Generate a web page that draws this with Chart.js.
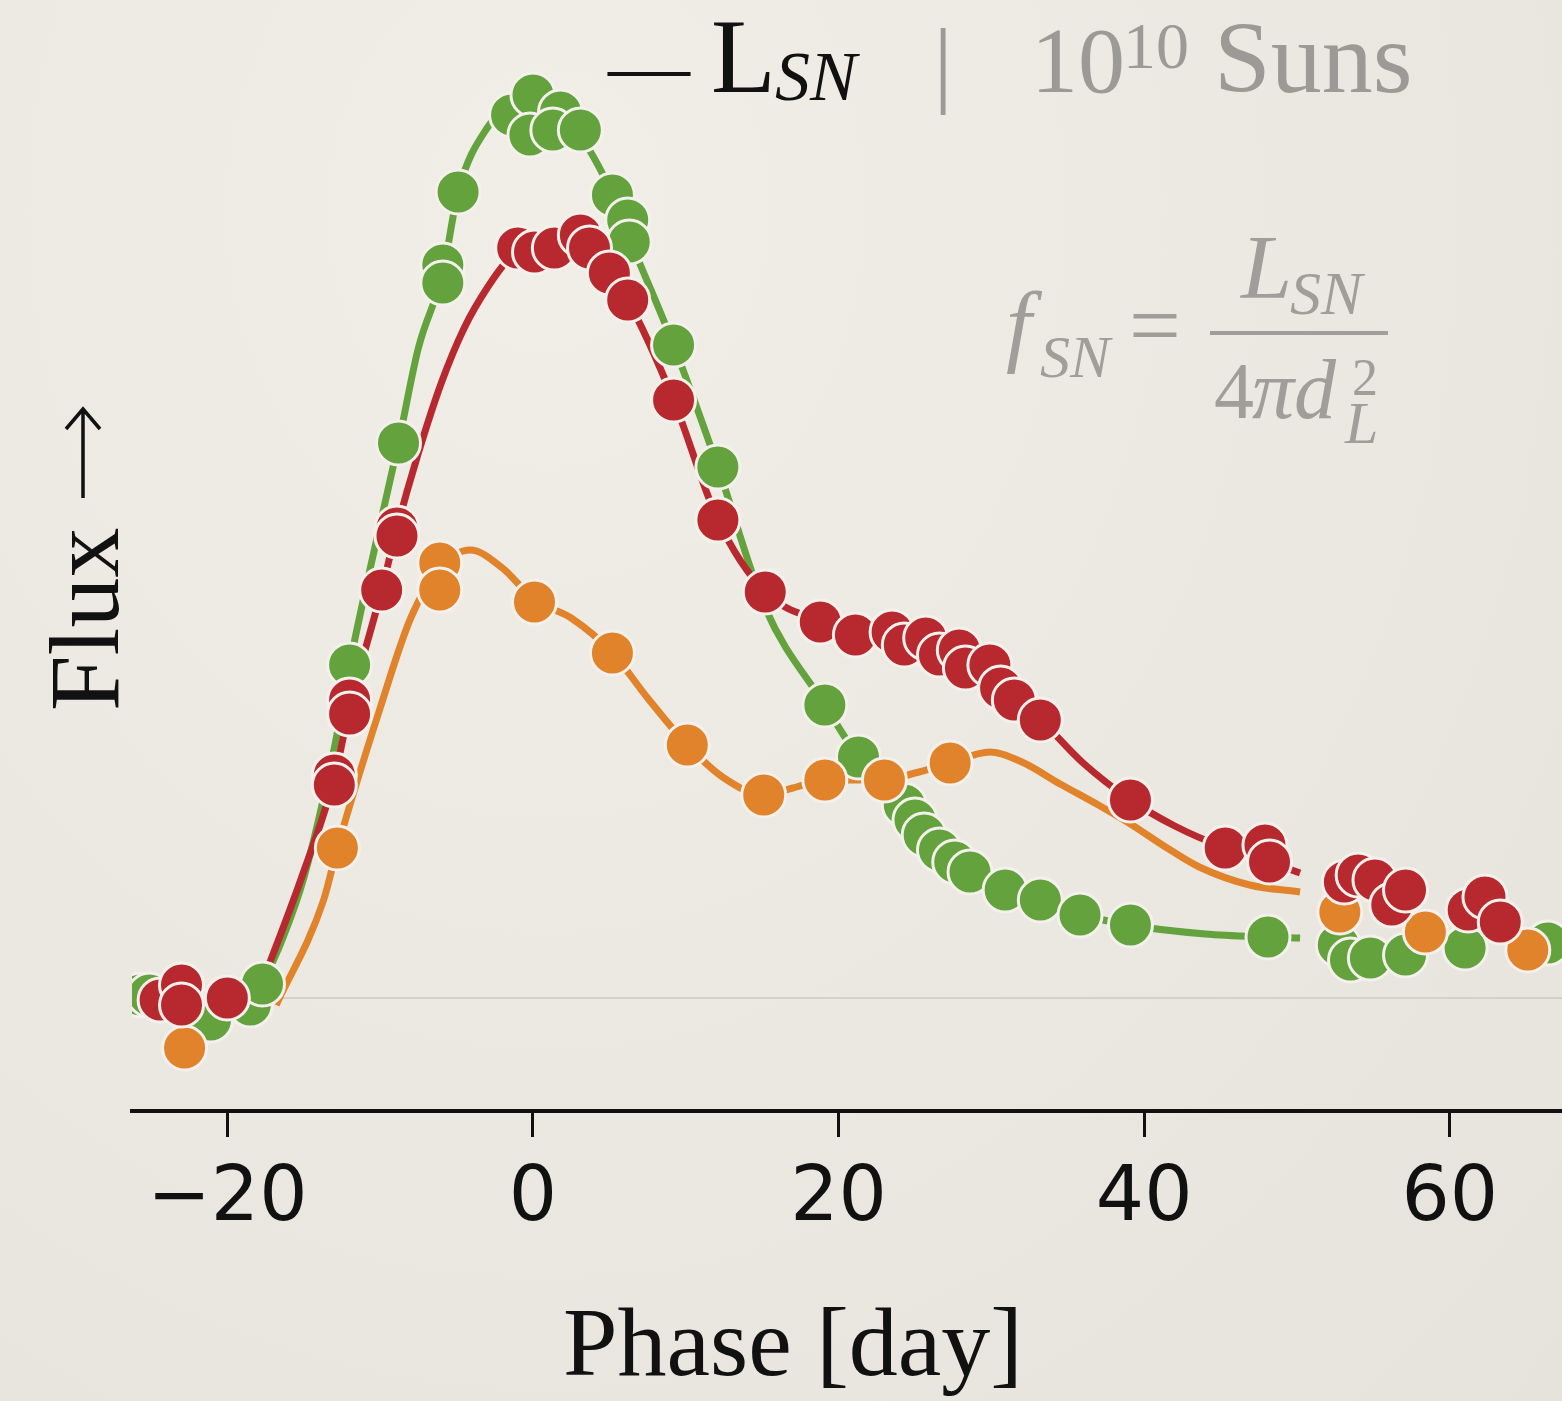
<!DOCTYPE html>
<html>
<head>
<meta charset="utf-8">
<title>SN light curve</title>
<script src="https://cdn.jsdelivr.net/npm/chart.js@4.4.1/dist/chart.umd.min.js"></script>
<style>
  html, body { margin: 0; padding: 0; }
  body {
    width: 1562px; height: 1401px; overflow: hidden;
    background: radial-gradient(ellipse at 35% 15%, #f1eee8 0%, #ebe8e1 55%, #e6e3dc 100%);
  }
  #lc { display: block; }
</style>
</head>
<body>
<canvas id="lc" width="1562" height="1401"></canvas>
<script>
// x axis ticks
const phaseTicks = [-20, 0, 20, 40, 60];
const phaseTickLabels = ['\u221220', '0', '20', '40', '60'];

// observed points (phase in days, flux in arbitrary units)
const greenPhase = [-25.7, -25.1, -21.1, -18.5, -17.7, -12.0, -8.8, -5.9, -5.9, -4.9, -1.4, 0.0, -0.2, 1.8, 1.3, 3.1, 5.2, 6.2, 6.3, 9.2,
  12.1, 19.1, 21.3, 24.3, 25.0, 25.6, 26.6, 27.6, 28.6, 30.9, 33.2, 35.8, 39.1, 48.1, 52.7, 53.5, 54.8, 57.1, 61.0, 66.4];
const greenFlux = [0.03, 0.03, -0.22, -0.07, 0.14, 3.33, 5.55, 7.33, 7.15, 8.06, 8.83, 9.03, 8.63, 8.86, 8.68, 8.68, 8.03, 7.78, 7.56, 6.53,
  5.31, 2.93, 2.41, 1.93, 1.78, 1.63, 1.48, 1.36, 1.26, 1.08, 0.98, 0.83, 0.73, 0.61, 0.53, 0.38, 0.40, 0.43, 0.50, 0.55];

const redPhase = [-24.4, -23.0, -23.0, -20.0, -13.0, -13.0, -12.0, -12.0, -9.9, -8.9, -8.9, -1.0, 0.1, 1.4, 3.1, 3.7, 5.0, 6.2, 9.2, 12.1,
  15.2, 18.8, 21.1, 23.5, 24.3, 25.7, 26.6, 27.9, 28.3, 29.9, 30.6, 31.5, 33.2, 39.1, 45.3, 47.9, 48.2, 53.1, 54.0, 55.1, 56.2, 57.1,
  61.2, 62.3, 63.3];
const redFlux = [-0.02, 0.13, -0.07, 0.0, 2.23, 2.13, 2.98, 2.84, 4.08, 4.70, 4.62, 7.50, 7.46, 7.50, 7.63, 7.50, 7.25, 6.98, 5.98, 4.78,
  4.06, 3.76, 3.63, 3.66, 3.53, 3.60, 3.43, 3.48, 3.30, 3.33, 3.10, 2.98, 2.78, 1.98, 1.50, 1.53, 1.36, 1.16, 1.23, 1.18, 0.93, 1.08,
  0.88, 1.01, 0.76];

const orangePhase = [-22.8, -12.8, -6.1, -6.1, 0.1, 5.2, 10.1, 15.1, 19.1, 23.0, 27.3, 52.8, 58.4, 65.1];
const orangeFlux = [-0.50, 1.50, 4.35, 4.08, 3.96, 3.45, 2.53, 2.03, 2.18, 2.18, 2.35, 0.86, 0.66, 0.48];

// fitted curves
const greenCurvePhase = [-17.7, -16.5, -15, -13, -12, -10.5, -8.8, -7.5, -5.9, -4.9, -3, -1.5, 0, 2, 4, 5.2, 6.3, 9.2,
  12.1, 15.2, 19.1, 21.3, 24.5, 27, 30, 33, 36, 39, 44, 48, 50.2];
const greenCurveFlux = [0.14, 0.55, 1.2, 2.5, 3.33, 4.4, 5.55, 6.5, 7.25, 8.06, 8.7, 8.9, 9.0, 8.85, 8.4, 8.03, 7.6, 6.53,
  5.31, 3.9, 2.93, 2.41, 1.9, 1.45, 1.15, 0.98, 0.83, 0.73, 0.64, 0.61, 0.6];

const redCurvePhase = [-17.6, -15.2, -13, -12, -9.9, -8.9, -7.5, -6, -4.5, -3, -1.5, 0, 1.5, 3, 5, 6.2, 9.2, 12.1, 15.2,
  19, 22, 25.5, 28.5, 31.5, 33.2, 36, 39.1, 42, 45.3, 48.2, 50.2];
const redCurveFlux = [0.2, 1.18, 2.2, 2.9, 4.08, 4.7, 5.45, 6.15, 6.7, 7.1, 7.4, 7.5, 7.52, 7.5, 7.25, 6.98, 5.98, 4.78, 4.06,
  3.76, 3.62, 3.55, 3.3, 2.98, 2.78, 2.35, 1.98, 1.72, 1.5, 1.36, 1.25];

const orangeCurvePhase = [-16.8, -13.7, -12.8, -10, -8, -6.1, -4.1, -2, 0.1, 2.5, 5.2, 7.5, 10.1, 12.5, 15.1, 17,
  19.1, 21, 23, 25, 27.3, 29.9, 32, 34.5, 37, 39.1, 41.5, 43.6, 46.9, 50.2];
const orangeCurveFlux = [-0.07, 0.98, 1.5, 2.9, 3.8, 4.3, 4.48, 4.3, 3.98, 3.8, 3.45, 3.0, 2.53, 2.2, 2.03, 2.1,
  2.18, 2.18, 2.18, 2.25, 2.35, 2.46, 2.36, 2.14, 1.93, 1.74, 1.5, 1.31, 1.13, 1.06];

const GREEN = '#63a23c';
const RED = '#b7292f';
const ORANGE = '#e0832a';
const EDGE = '#f4f1ec';
const GREY = '#9c9a96';

function toXY(xs, ys) {
    return xs.map((x, i) => ({ x: x, y: ys[i] }));
}

function curve(xs, ys, color, order) {
    return {
        type: 'scatter',
        data: toXY(xs, ys),
        showLine: true,
        borderColor: color,
        borderWidth: 7,
        pointRadius: 0,
        cubicInterpolationMode: 'monotone',
        clip: 0,
        order: order
    };
}

function marks(xs, ys, color, order) {
    return {
        type: 'scatter',
        data: toXY(xs, ys),
        showLine: false,
        backgroundColor: color,
        borderColor: EDGE,
        borderWidth: 3,
        pointRadius: 22,
        clip: 0,
        order: order
    };
}

// text on the canvas: axis titles, header, formula
const annotations = {
    id: 'annotations',
    afterDraw(chart) {
        const ctx = chart.ctx;
        ctx.save();
        ctx.textBaseline = 'alphabetic';
        ctx.textAlign = 'left';

        // x title
        ctx.fillStyle = '#111';
        ctx.font = '98px "Liberation Serif"';
        ctx.fillText('Phase [day]', 563, 1375);

        // y title
        ctx.save();
        ctx.translate(118, 711);
        ctx.rotate(-Math.PI / 2);
        ctx.font = '100px "Liberation Serif"';
        ctx.fillText('Flux', 0, 0);
        ctx.lineWidth = 3.5;
        ctx.strokeStyle = '#111';
        ctx.beginPath();
        ctx.moveTo(213, -35);
        ctx.lineTo(300, -35);
        ctx.moveTo(282, -52);
        ctx.lineTo(302, -35);
        ctx.lineTo(282, -18);
        ctx.stroke();
        ctx.restore();

        // header
        ctx.font = '82px "Liberation Serif"';
        ctx.fillText('\u2014', 608, 93);
        ctx.font = '106px "Liberation Serif"';
        ctx.fillText('L', 711, 92);
        ctx.font = 'italic 70px "Liberation Serif"';
        ctx.fillText('SN', 775, 100);

        ctx.fillStyle = GREY;
        ctx.textAlign = 'center';
        ctx.font = '96px "Liberation Serif"';
        ctx.fillText('|', 943, 95);
        ctx.textAlign = 'left';
        ctx.font = '94px "Liberation Serif"';
        ctx.fillText('10', 1031, 92);
        ctx.font = '66px "Liberation Serif"';
        ctx.fillText('10', 1123, 68);
        ctx.font = '102px "Liberation Serif"';
        ctx.fillText('Suns', 1214, 92);

        // formula
        ctx.fillStyle = '#a09e9a';
        ctx.font = 'italic 92px "Liberation Serif"';
        ctx.fillText('f', 1006, 355);
        ctx.font = 'italic 60px "Liberation Serif"';
        ctx.fillText('SN', 1040, 377);
        ctx.font = '92px "Liberation Serif"';
        ctx.fillText('=', 1129, 356);
        ctx.fillRect(1210, 331, 178, 4);
        ctx.font = 'italic 92px "Liberation Serif"';
        ctx.fillText('L', 1241, 298);
        ctx.font = 'italic 62px "Liberation Serif"';
        ctx.fillText('SN', 1290, 314);
        ctx.font = '80px "Liberation Serif"';
        ctx.fillText('4', 1214, 418);
        ctx.font = 'italic 84px "Liberation Serif"';
        ctx.fillText('\u03c0d', 1252, 418);
        ctx.font = '52px "Liberation Serif"';
        ctx.fillText('2', 1352, 395);
        ctx.font = 'italic 60px "Liberation Serif"';
        ctx.fillText('L', 1345, 443);

        ctx.restore();
    }
};

new Chart(document.getElementById('lc').getContext('2d'), {
    type: 'scatter',
    data: {
        datasets: [
            curve(greenCurvePhase, greenCurveFlux, GREEN, 12),
            curve(orangeCurvePhase, orangeCurveFlux, ORANGE, 11),
            curve(redCurvePhase, redCurveFlux, RED, 10),
            marks(greenPhase, greenFlux, GREEN, 3),
            marks(orangePhase, orangeFlux, ORANGE, 2),
            marks(redPhase, redFlux, RED, 1)
        ]
    },
    options: {
        responsive: false,
        animation: false,
        devicePixelRatio: 1,
        layout: { padding: 0, autoPadding: false },
        plugins: {
            legend: { display: false },
            tooltip: { enabled: false }
        },
        scales: {
            x: {
                type: 'linear',
                min: -26.24,
                max: 67.34,
                afterBuildTicks: scale => {
                    scale.ticks = phaseTicks.map(v => ({ value: v }));
                },
                afterFit: scale => { scale.height = 290; },
                ticks: {
                    callback: (value, index) => phaseTickLabels[index],
                    font: { family: 'DejaVu Sans', size: 76 },
                    color: '#111',
                    padding: 18,
                    autoSkip: false,
                    maxRotation: 0
                },
                grid: {
                    drawOnChartArea: false,
                    drawTicks: true,
                    tickLength: 26,
                    tickWidth: 3,
                    tickColor: '#111'
                },
                border: { display: true, color: '#111', width: 4 }
            },
            y: {
                min: -1.13,
                max: 9.98,
                afterBuildTicks: scale => {
                    scale.ticks = [{ value: 0 }];
                },
                afterFit: scale => { scale.width = 132; },
                ticks: { display: false },
                grid: { color: '#d4d1cb', lineWidth: 2, drawTicks: false },
                border: { display: false }
            }
        }
    },
    plugins: [annotations]
});
</script>
</body>
</html>
